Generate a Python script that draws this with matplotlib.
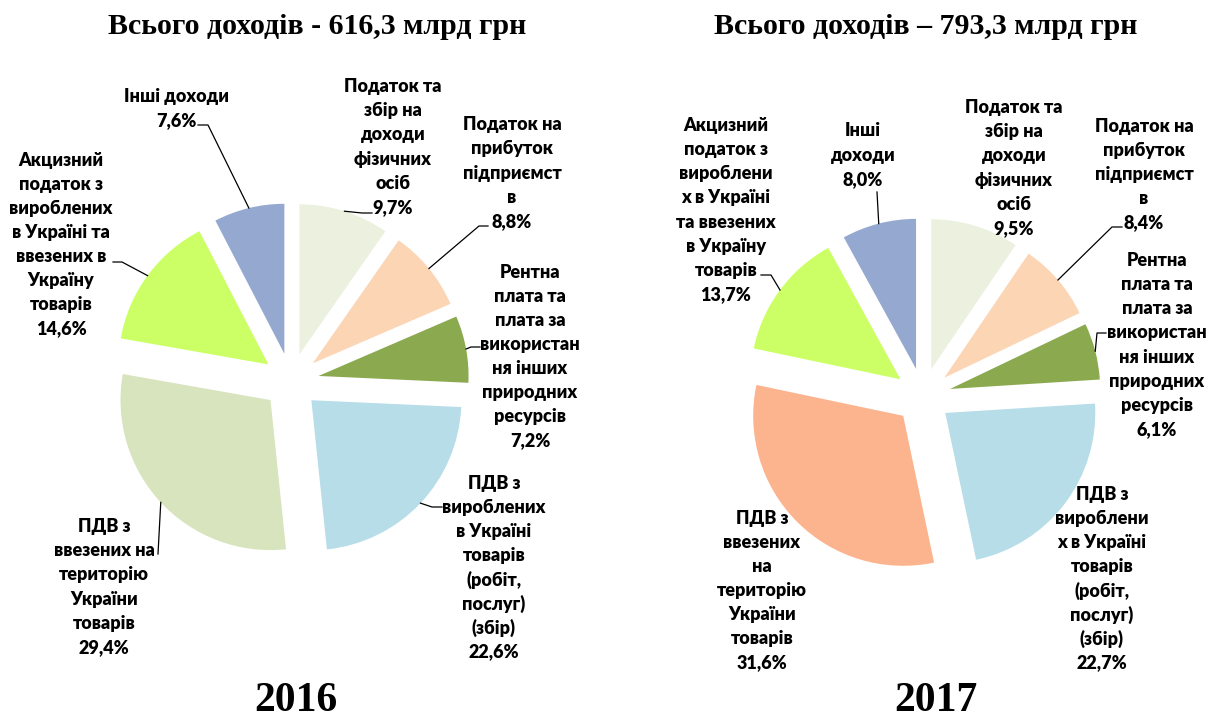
import numpy as np
import matplotlib.pyplot as plt

# shares of budget revenues, %
share_2016 = [9.7, 8.8, 7.2, 22.6, 29.4, 14.6, 7.6]
share_2017 = [9.5, 8.4, 6.1, 22.7, 31.6, 13.7, 8.0]
total_2016 = 616.3
total_2017 = 793.3
years = ['2016', '2017']

# category names, wrapped the way they appear on the chart
labels_2016 = [
    'Податок та\nзбір на\nдоходи\nфізичних\nосіб',
    'Податок на\nприбуток\nпідприємст\nв',
    'Рентна\nплата та\nплата за\nвикористан\nня інших\nприродних\nресурсів',
    'ПДВ з\nвироблених\nв Україні\nтоварів\n(робіт,\nпослуг)\n(збір)',
    'ПДВ з\nввезених на\nтериторію\nУкраїни\nтоварів',
    'Акцизний\nподаток з\nвироблених\nв Україні та\nввезених в\nУкраїну\nтоварів',
    'Інші доходи',
]
labels_2017 = [
    'Податок та\nзбір на\nдоходи\nфізичних\nосіб',
    'Податок на\nприбуток\nпідприємст\nв',
    'Рентна\nплата та\nплата за\nвикористан\nня інших\nприродних\nресурсів',
    'ПДВ з\nвироблени\nх в Україні\nтоварів\n(робіт,\nпослуг)\n(збір)',
    'ПДВ з\nввезених\nна\nтериторію\nУкраїни\nтоварів',
    'Акцизний\nподаток з\nвироблени\nх в Україні\nта ввезених\nв Україну\nтоварів',
    'Інші\nдоходи',
]

colors_2016 = ['#EBF1DE', '#FCD5B5', '#8BA94F', '#B7DDE8', '#D7E4BD', '#CCFF66', '#95A9D0']
colors_2017 = ['#EBF1DE', '#FCD5B5', '#8BA94F', '#B7DDE8', '#FBB48E', '#CCFF66', '#95A9D0']

# layout (pixel coords, y measured from the top)
W, H = 1208, 719
R = 150
EXPL = 28
PITCH = 24.1
pie_center = [(291, 381), (923, 396)]
title_x = [317, 926]
year_x = [296, 936]
label_pos = [
    [(393, 147), (512, 173), (530, 356.5), (494, 567.5), (104, 587), (61, 244.5), (176, 109)],
    [(1014, 168), (1144, 174.5), (1157, 345), (1102, 578.5), (762, 590.5), (726, 210), (863, 155)],
]
# leader line: start near the label (x, y, horizontal elbow)
leaders = [
    [(372, 213, -10), (488, 226, -9), (480, 347, -9), (442, 507, -10), (158, 554, 0), (113, 262, 9), (198, 125, 10)],
    [None, (1122, 227, -10), (1106, 333, -9), None, None, (761, 275, 10), (877, 192, 0)],
]

label_font = ['Lato', 'DejaVu Sans']
serif_font = ['Liberation Serif', 'DejaVu Serif']

fig = plt.figure(figsize=(W / 100, H / 100), dpi=100)
ax = fig.add_axes([0, 0, 1, 1])

data = [(share_2016, labels_2016, colors_2016, total_2016, '-'),
        (share_2017, labels_2017, colors_2017, total_2017, '–')]

for k, (shares, labels, colors, total, dash) in enumerate(data):
    cx, cy = pie_center[k]
    wedges, _ = ax.pie(shares, colors=colors, startangle=90, counterclock=False,
                       radius=R, center=(cx, H - cy), explode=[EXPL] * len(shares),
                       wedgeprops=dict(linewidth=0))

    for i, w in enumerate(wedges):
        pct = f'{shares[i]:.1f}'.replace('.', ',') + '%'
        lines = (labels[i] + '\n' + pct).split('\n')
        lx, ly = label_pos[k][i]
        n = len(lines)
        for j, line in enumerate(lines):
            yy = ly + (j - (n - 1) / 2) * PITCH
            ax.text(lx, H - yy, line, ha='center', va='center', fontsize=13,
                    fontweight='heavy', family=label_font, color='black')

        lead = leaders[k][i]
        if lead is not None:
            mid = np.deg2rad((w.theta1 + w.theta2) / 2)
            px = w.center[0] + w.r * np.cos(mid)
            py = w.center[1] + w.r * np.sin(mid)
            sx, sy, dx = lead
            ax.plot([sx, sx + dx, px], [H - sy, H - sy, py], color='black', lw=0.9)

    title = f'Всього доходів {dash} ' + f'{total:.1f}'.replace('.', ',') + ' млрд грн'
    ax.text(title_x[k], H - 27, title, ha='center', va='center', fontsize=21.5,
            fontweight='bold', family=serif_font)
    ax.text(year_x[k], H - 711, years[k], ha='center', va='baseline', fontsize=30,
            fontweight='bold', family=serif_font)

ax.set_xlim(0, W)
ax.set_ylim(0, H)
ax.set_aspect('auto')
ax.axis('off')

fig.savefig('out.png', dpi=100)
